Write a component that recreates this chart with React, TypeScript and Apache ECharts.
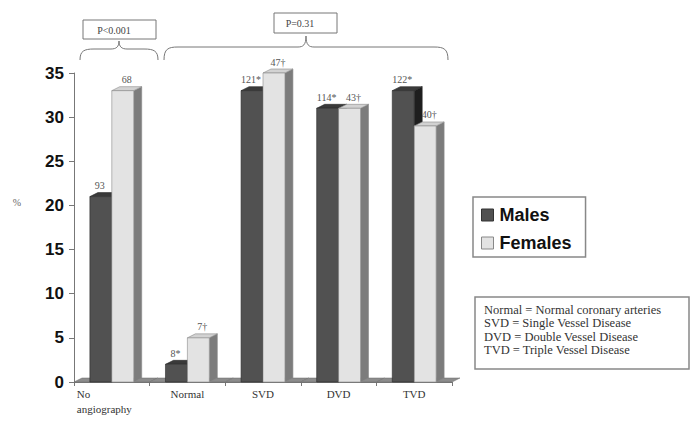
import React, { useEffect, useRef } from "react";
import * as echarts from "echarts";

const categories = ["No\nangiography", "Normal", "SVD", "DVD", "TVD"];
const males = [21, 2, 33, 31, 33];
const females = [33, 5, 35, 31, 29];
const maleLabels = ["93", "8*", "121*", "114*", "122*"];
const femaleLabels = ["68", "7†", "47†", "43†", "40†"];
const noteLines = [
  "Normal = Normal coronary arteries",
  "SVD = Single Vessel Disease",
  "DVD = Double Vessel Disease",
  "TVD = Triple Vessel Disease",
];
const pValues = ["P<0.001", "P=0.31"];

const DX = 8;
const DY = 4;

function makeBarRender(isMale: boolean, labels: string[]) {
  return (params: any, api: any) => {
    const idx = api.value(0);
    const val = api.value(1);
    const top = api.coord([idx, val]);
    const base = api.coord([idx, 0]);
    const bandW = api.size([1, 0])[0];
    const bw = bandW * 0.29;
    const x0 = isMale ? top[0] - bw : top[0];
    const x1 = x0 + bw;
    const yt = top[1];
    const yb = base[1];
    const front = isMale ? "#515151" : "#e3e3e3";
    const topC = isMale ? "#3a3a3a" : "#d2d2d2";
    const side = isMale ? "#1e1e1e" : "#7c7c7c";
    const stroke = isMale ? "#2a2a2a" : "#8a8a8a";
    return {
      type: "group",
      children: [
        {
          type: "polygon",
          shape: { points: [[x1, yt], [x1 + DX, yt - DY], [x1 + DX, yb - DY], [x1, yb]] },
          style: { fill: side, stroke: stroke, lineWidth: 0.6 },
        },
        {
          type: "polygon",
          shape: { points: [[x0, yt], [x1, yt], [x1 + DX, yt - DY], [x0 + DX, yt - DY]] },
          style: { fill: topC, stroke: stroke, lineWidth: 0.6 },
        },
        {
          type: "rect",
          shape: { x: x0, y: yt, width: bw, height: yb - yt },
          style: { fill: front, stroke: stroke, lineWidth: 0.6 },
        },
        {
          type: "text",
          style: {
            text: labels[idx],
            x: (x0 + x1) / 2 + (isMale ? -1 : DX / 2),
            y: yt - DY - 2,
            align: "center",
            verticalAlign: "bottom",
            fontSize: 10,
            fontFamily: "Liberation Serif",
            fill: "#555",
          },
        },
      ],
    };
  };
}

function floorRender(params: any, api: any) {
  const idx = api.value(0);
  const c = api.coord([idx, 0]);
  const bandW = api.size([1, 0])[0];
  const l = c[0] - bandW / 2;
  const r = c[0] + bandW / 2;
  const y = c[1];
  return {
    type: "polygon",
    shape: { points: [[l, y], [r, y], [r + DX, y - DY], [l + DX, y - DY]] },
    style: { fill: "#8c8c8c", stroke: "#6a6a6a", lineWidth: 0.5 },
  };
}

function brace(x0: number, x1: number, cx: number, yEnd: number, yMid: number, yTop: number) {
  const s = { stroke: "#777", lineWidth: 1, fill: "none" };
  return [
    { type: "bezierCurve", shape: { x1: x0, y1: yEnd, x2: x0 + 14, y2: yMid, cpx1: x0, cpy1: yMid + 2, cpx2: x0 + 4, cpy2: yMid }, style: s },
    { type: "line", shape: { x1: x0 + 14, y1: yMid, x2: cx - 8, y2: yMid }, style: s },
    { type: "bezierCurve", shape: { x1: cx - 8, y1: yMid, x2: cx, y2: yTop, cpx1: cx - 3, cpy1: yMid, cpx2: cx, cpy2: yMid - 2 }, style: s },
    { type: "bezierCurve", shape: { x1: cx, y1: yTop, x2: cx + 8, y2: yMid, cpx1: cx, cpy1: yMid - 2, cpx2: cx + 3, cpy2: yMid }, style: s },
    { type: "line", shape: { x1: cx + 8, y1: yMid, x2: x1 - 14, y2: yMid }, style: s },
    { type: "bezierCurve", shape: { x1: x1 - 14, y1: yMid, x2: x1, y2: yEnd, cpx1: x1 - 4, cpy1: yMid, cpx2: x1, cpy2: yMid + 2 }, style: s },
  ];
}

export default function App() {
  const ref = useRef<HTMLDivElement>(null);
  useEffect(() => {
    if (!ref.current) return;
    const chart = echarts.init(ref.current, undefined, { renderer: "svg" });
    const labelFont = { fontSize: 11, fontFamily: "Liberation Serif", color: "#333", lineHeight: 15 };
    const option: any = {
      animation: false,
      backgroundColor: "#fff",
      grid: { left: 74, right: 244, top: 73, bottom: 46, containLabel: false },
      legend: {
        data: [
          { name: "Males", itemStyle: { color: "#515151", borderColor: "#333", borderWidth: 1 } },
          { name: "Females", itemStyle: { color: "#e3e3e3", borderColor: "#888", borderWidth: 1 } },
        ],
        orient: "vertical",
        left: 473,
        top: 197,
        padding: [9, 14, 5, 8],
        itemGap: 10,
        itemWidth: 12,
        itemHeight: 12,
        icon: "rect",
        borderColor: "#888",
        borderWidth: 1.5,
        textStyle: { fontSize: 18, fontWeight: "bold", fontFamily: "Liberation Sans", color: "#111", padding: [0, 0, 0, 1] },
      },
      xAxis: {
        type: "category",
        data: categories,
        boundaryGap: true,
        axisLine: { lineStyle: { color: "#777", width: 1 } },
        axisTick: { show: true, alignWithLabel: false, length: 4, lineStyle: { color: "#777" } },
        axisLabel: {
          interval: 0,
          margin: 4,
          ...labelFont,
          formatter: (v: string) => {
            if (v.indexOf("\n") >= 0) {
              const parts = v.split("\n");
              return "{l|" + parts[0] + "}\n{a|" + parts[1] + "}";
            }
            return v;
          },
          rich: {
            l: { align: "left", ...labelFont },
            a: { align: "left", ...labelFont, padding: [0, 15, 0, 0] },
          },
        },
      },
      yAxis: {
        type: "value",
        min: 0,
        max: 35,
        interval: 5,
        axisLine: { show: true, lineStyle: { color: "#777", width: 1 } },
        axisTick: { show: true, length: 5, lineStyle: { color: "#777" } },
        splitLine: { show: false },
        axisLabel: { fontSize: 17, fontWeight: "bold", fontFamily: "Liberation Sans", color: "#111", margin: 10 },
      },
      series: [
        {
          type: "custom",
          name: "floor",
          renderItem: floorRender,
          data: categories.map((_, i) => [i, 0]),
          z: 1,
          silent: true,
        },
        {
          type: "custom",
          name: "Males",
          renderItem: makeBarRender(true, maleLabels),
          data: males.map((v, i) => [i, v]),
          itemStyle: { color: "#515151" },
          z: 2,
        },
        {
          type: "custom",
          name: "Females",
          renderItem: makeBarRender(false, femaleLabels),
          data: females.map((v, i) => [i, v]),
          itemStyle: { color: "#e3e3e3" },
          z: 3,
        },
      ],
      graphic: [
        { type: "text", x: 17, y: 202, style: { text: "%", align: "center", verticalAlign: "middle", fontSize: 10, fontFamily: "Liberation Serif", fill: "#666" } },
        { type: "rect", shape: { x: 83, y: 20, width: 73, height: 19 }, style: { fill: "#fff", stroke: "#777", lineWidth: 1 } },
        { type: "text", x: 114, y: 30, style: { text: pValues[0], align: "center", verticalAlign: "middle", fontSize: 10, fontFamily: "Liberation Serif", fill: "#444" } },
        { type: "rect", shape: { x: 274, y: 13, width: 63, height: 20 }, style: { fill: "#fff", stroke: "#777", lineWidth: 1 } },
        { type: "text", x: 300, y: 23, style: { text: pValues[1], align: "center", verticalAlign: "middle", fontSize: 10, fontFamily: "Liberation Serif", fill: "#444" } },
        ...brace(80, 158, 119, 60, 49, 41),
        ...brace(164, 448, 306, 60, 47, 36),
        { type: "rect", shape: { x: 475, y: 297, width: 214, height: 72 }, style: { fill: "#fff", stroke: "#888", lineWidth: 1.5 } },
        ...noteLines.map((t, i) => ({
          type: "text",
          x: 484,
          y: 310 + i * 13.4,
          style: { text: t, align: "left", verticalAlign: "middle", fontSize: 12.5, fontFamily: "Liberation Serif", fill: "#333" },
        })),
      ],
    };
    chart.setOption(option);
    return () => chart.dispose();
  }, []);
  return <div ref={ref} style={{ position: "absolute", left: 0, top: 0, width: 696, height: 428 }} />;
}
